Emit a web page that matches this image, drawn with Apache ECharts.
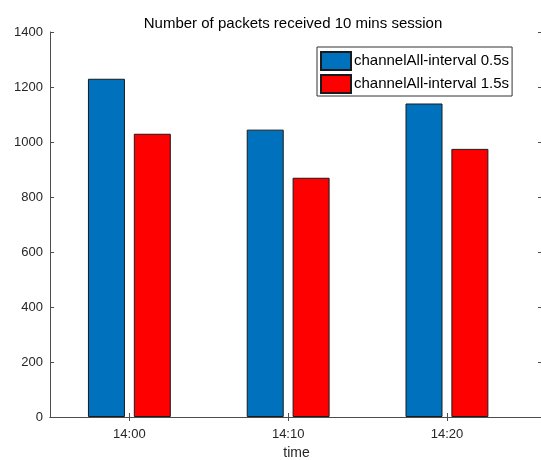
<!DOCTYPE html>
<html lang="en">
    <head>
        <meta charset="utf-8">
        <title>Packets received</title>
        <script src="https://cdn.jsdelivr.net/npm/echarts@6/dist/echarts.min.js"></script>
        <style>
            html, body { margin: 0; padding: 0; background: #fff; }
        </style>
    </head>
    <body>
        <div id="main" style="width: 541px;height:460px;"></div>
        <script type="text/javascript">
            // data
            var times = ['14:00', '14:10', '14:20'];
            var interval05 = [1230, 1045, 1140];
            var interval15 = [1030, 870, 975];
            var seriesNames = ['channelAll-interval 0.5s', 'channelAll-interval 1.5s'];
            var yTicks = [0, 200, 400, 600, 800, 1000, 1200, 1400];

            var positions = times.map(function(t, i) { return i + 1; });
            var toPoints = function(values) {
                return values.map(function(v, i) { return [positions[i], v]; });
            };

            var font = 'Liberation Sans, Arial, sans-serif';
            var axisColor = '#4d4d4d';
            var textColor = '#262626';

            var myChart = echarts.init(document.getElementById('main'));

            var xBase = {
                type: 'value',
                min: 0.5,
                max: 3.605,
                splitLine: { show: false },
                axisLine: { show: true, lineStyle: { color: axisColor, width: 1 } },
                axisTick: {
                    show: true,
                    inside: true,
                    length: 4,
                    customValues: positions,
                    lineStyle: { color: axisColor }
                }
            };

            myChart.setOption({
                animation: false,
                title: {
                    text: 'Number of packets received 10 mins session',
                    left: 288,
                    textAlign: 'center',
                    top: 11,
                    textStyle: {
                        fontFamily: font,
                        fontSize: 15,
                        fontWeight: 'normal',
                        color: '#000'
                    }
                },
                legend: {
                    orient: 'vertical',
                    left: 317,
                    top: 47,
                    itemWidth: 30,
                    itemHeight: 18,
                    itemGap: 3,
                    padding: [4, 3, 2, 3],
                    borderColor: '#333',
                    borderWidth: 1,
                    backgroundColor: '#fff',
                    icon: 'rect',
                    textStyle: {
                        fontFamily: font,
                        fontSize: 15,
                        color: '#000',
                        padding: [0, 0, 0, -2]
                    },
                    data: seriesNames
                },
                grid: {
                    left: 50,
                    top: 32,
                    width: 493,
                    height: 385,
                    containLabel: false,
                    outerBoundsMode: 'none'
                },
                xAxis: [
                    Object.assign({}, xBase, {
                        position: 'bottom',
                        name: 'time',
                        nameLocation: 'middle',
                        nameGap: 29,
                        nameTextStyle: { fontFamily: font, fontSize: 14, color: textColor },
                        axisLabel: {
                            show: true,
                            customValues: positions,
                            margin: 11,
                            fontFamily: font,
                            fontSize: 13,
                            color: textColor,
                            formatter: function(v) { return times[Math.round(v) - 1]; }
                        }
                    }),
                    Object.assign({}, xBase, {
                        position: 'top',
                        axisLabel: { show: false }
                    })
                ],
                yAxis: [{
                        type: 'value',
                        min: 0,
                        max: 1400,
                        interval: 200,
                        splitLine: { show: false },
                        axisLine: { show: true, lineStyle: { color: axisColor, width: 1 } },
                        axisTick: { show: true, inside: true, length: 4, lineStyle: { color: axisColor } },
                        axisLabel: {
                            margin: 7,
                            fontFamily: font,
                            fontSize: 13,
                            color: textColor,
                            customValues: yTicks,
                            formatter: function(v) { return String(v); }
                        }
                    }, {
                        type: 'value',
                        position: 'right',
                        min: 0,
                        max: 1400,
                        interval: 200,
                        splitLine: { show: false },
                        axisLine: { show: true, lineStyle: { color: axisColor, width: 1 } },
                        axisTick: { show: true, inside: true, length: 5, lineStyle: { color: axisColor } },
                        axisLabel: { show: false }
                    }],
                series: [{
                        name: seriesNames[0],
                        type: 'bar',
                        barWidth: 37,
                        barGap: '24%',
                        data: toPoints(interval05),
                        itemStyle: {
                            color: '#0072BD',
                            borderColor: '#1a1a1a',
                            borderWidth: 1
                        }
                    }, {
                        name: seriesNames[1],
                        type: 'bar',
                        barWidth: 37,
                        barGap: '24%',
                        data: toPoints(interval15),
                        itemStyle: {
                            color: '#FF0000',
                            borderColor: '#1a1a1a',
                            borderWidth: 1
                        }
                    }]
            });
        </script>
    </body>
</html>
